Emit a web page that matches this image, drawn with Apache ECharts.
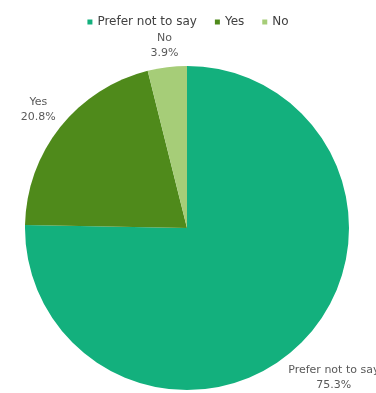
<!DOCTYPE html>
<html>
<head>
<meta charset="utf-8">
<script src="https://cdn.jsdelivr.net/npm/echarts@6/dist/echarts.min.js"></script>
<style>
  html, body { margin: 0; padding: 0; background: #fff; }
  #chart { width: 376px; height: 393px; }
</style>
</head>
<body>
<div id="chart"></div>
<script>
// Survey answers and their shares (%)
const categories = ['Prefer not to say', 'Yes', 'No'];
const shares = [75.3, 20.8, 3.9];
const colors = ['#13b07d', '#4f8a1b', '#a6cd78'];

const FONT = '"DejaVu Sans", "Noto Sans", sans-serif';
const GAP = 5; // distance between the pie edge and the nearest side of a label

const chart = echarts.init(document.getElementById('chart'), null, { renderer: 'canvas' });

chart.setOption({
  animation: false,
  color: colors,
  legend: {
    top: 11,
    left: 'center',
    icon: 'rect',
    itemWidth: 5,
    itemHeight: 5,
    itemGap: 18,
    textStyle: { color: '#404040', fontSize: 12, fontFamily: FONT },
    data: categories
  },
  series: [{
    type: 'pie',
    center: [187, 228],
    radius: 162,
    startAngle: 90,
    clockwise: true,
    avoidLabelOverlap: false,
    label: {
      show: true,
      position: 'outside',
      color: '#595959',
      fontSize: 11,
      lineHeight: 15,
      fontFamily: FONT,
      formatter: p => p.name + '\n' + p.value.toFixed(1) + '%'
    },
    labelLine: { show: true, length: 10, length2: 0, lineStyle: { opacity: 0 } },
    labelLayout: function (p) {
      // place each label centred on the slice's bisector, just clear of the rim
      const pts = p.labelLinePoints;
      if (!pts) return {};
      const x0 = pts[0][0], y0 = pts[0][1];
      let dx = pts[1][0] - x0, dy = pts[1][1] - y0;
      const len = Math.hypot(dx, dy) || 1;
      dx /= len; dy /= len;
      const w = p.labelRect.width, h = p.labelRect.height;
      const reach = Math.abs(dx) * w / 2 + Math.abs(dy) * h / 2;
      return {
        x: x0 + dx * (GAP + reach),
        y: y0 + dy * (GAP + reach),
        align: 'center',
        verticalAlign: 'middle'
      };
    },
    emphasis: { disabled: true },
    data: categories.map((name, i) => ({ name: name, value: shares[i] }))
  }]
});
</script>
</body>
</html>
